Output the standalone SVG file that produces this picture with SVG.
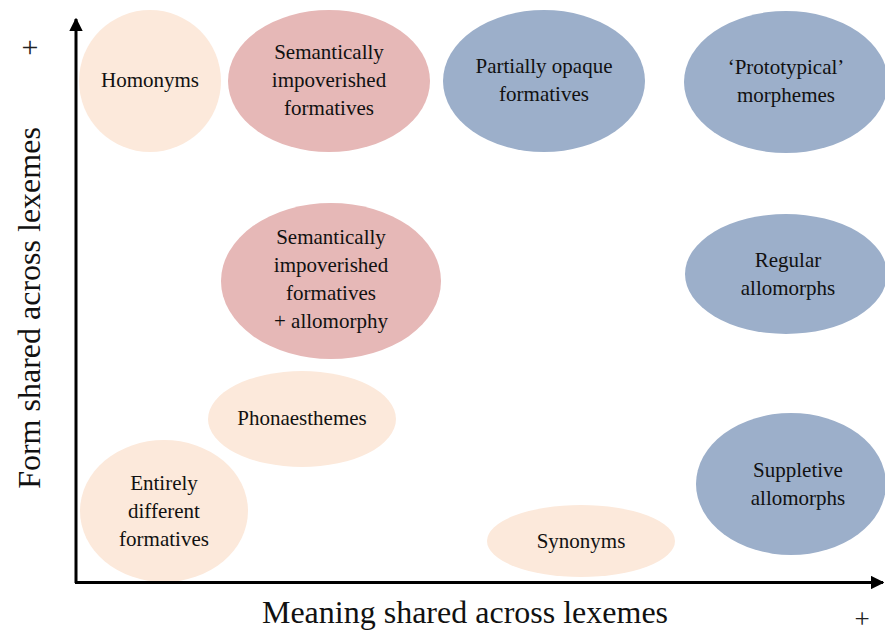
<svg xmlns="http://www.w3.org/2000/svg" width="885" height="637" viewBox="0 0 885 637">
<style>
.t{font-family:"Liberation Serif","Times New Roman",serif;font-size:21px;fill:#111;text-anchor:middle}
.ax{font-family:"Liberation Serif","Times New Roman",serif;font-size:32px;fill:#111;text-anchor:middle}
.pl{font-family:"Liberation Serif","Times New Roman",serif;font-size:30px;fill:#222;text-anchor:middle}
.peach{fill:#FCE9DB}
.rose{fill:#E6B8B7}
.blue{fill:#9CAFCA}
</style>
<defs>
<marker id="ah" viewBox="0 0 10 10" refX="9" refY="5" markerWidth="4.5" markerHeight="4.5" markerUnits="strokeWidth" orient="auto">
<path d="M0,0 L10,5 L0,10 z" fill="#000"/>
</marker>
</defs>
<rect width="885" height="637" fill="#fff"/>
<g id="nodes">
<g id="homonyms"><ellipse class="peach" cx="150" cy="81" rx="71" ry="71"/><text class="t" x="150" y="87">Homonyms</text></g>
<g id="sem-imp"><ellipse class="rose" cx="329" cy="81" rx="101" ry="71"/><text class="t" x="329" y="59">Semantically</text><text class="t" x="329" y="87">impoverished</text><text class="t" x="329" y="115">formatives</text></g>
<g id="partially-opaque"><ellipse class="blue" cx="544" cy="81" rx="101" ry="71"/><text class="t" x="544" y="73">Partially opaque</text><text class="t" x="544" y="101">formatives</text></g>
<g id="prototypical"><ellipse class="blue" cx="786" cy="82" rx="102" ry="71"/><text class="t" x="786" y="74">‘Prototypical’</text><text class="t" x="786" y="102">morphemes</text></g>
<g id="sem-imp-allo"><ellipse class="rose" cx="331" cy="281" rx="110" ry="78"/><text class="t" x="331" y="244">Semantically</text><text class="t" x="331" y="272">impoverished</text><text class="t" x="331" y="300">formatives</text><text class="t" x="331" y="328">+ allomorphy</text></g>
<g id="regular"><ellipse class="blue" cx="786" cy="274" rx="101" ry="60"/><text class="t" x="788" y="267">Regular</text><text class="t" x="788" y="295">allomorphs</text></g>
<g id="phonaesthemes"><ellipse class="peach" cx="302" cy="419" rx="94" ry="48"/><text class="t" x="302" y="425">Phonaesthemes</text></g>
<g id="entirely"><ellipse class="peach" cx="164" cy="511" rx="84" ry="71"/><text class="t" x="164" y="490">Entirely</text><text class="t" x="164" y="518">different</text><text class="t" x="164" y="546">formatives</text></g>
<g id="synonyms"><ellipse class="peach" cx="581" cy="541" rx="94" ry="36"/><text class="t" x="581" y="548">Synonyms</text></g>
<g id="suppletive"><ellipse class="blue" cx="791" cy="484" rx="95" ry="71"/><text class="t" x="798" y="477">Suppletive</text><text class="t" x="798" y="505">allomorphs</text></g>
</g>
<g id="connectors" stroke="#000" stroke-width="3" fill="none">
<path d="M76,583 L76,19" marker-end="url(#ah)"/>
<path d="M75,582.5 L883,582.5" marker-end="url(#ah)"/>
</g>
<text class="ax" x="465" y="623">Meaning shared across lexemes</text>
<text class="ax" transform="translate(40,308) rotate(-90)">Form shared across lexemes</text>
<text class="pl" x="30" y="57">+</text>
<text class="pl" x="862" y="628" style="font-size:27px">+</text>
</svg>
